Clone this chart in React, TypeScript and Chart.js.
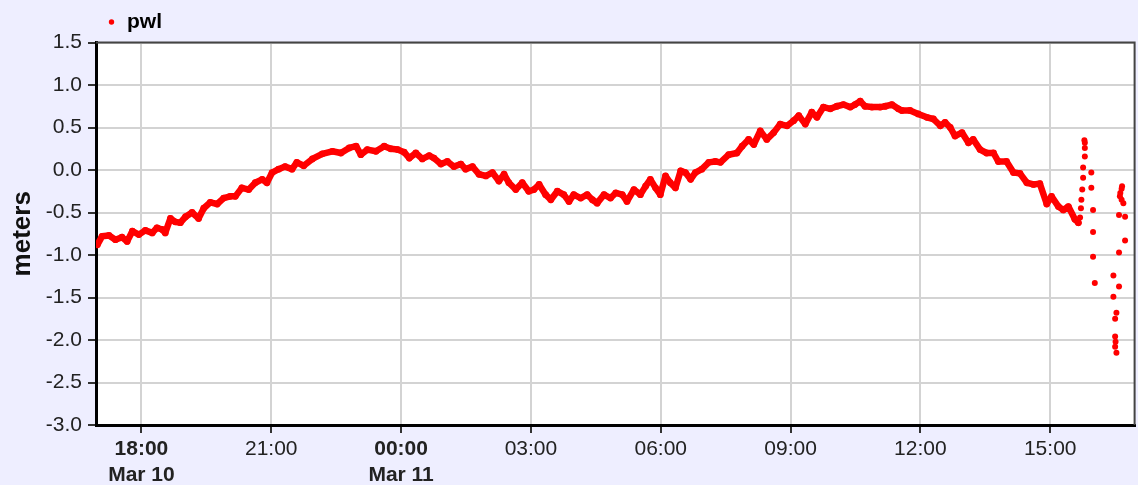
import React, { useEffect, useRef } from 'react';
import { Chart, registerables } from 'chart.js';

Chart.register(...registerables);

// ---- data (hours counted from Mar 10 00:00) ----
const SERIES_LABEL = 'pwl';

const MAIN_HOURS = [
  16.98, 17.09, 17.25, 17.40, 17.55, 17.67, 17.79, 17.94, 18.09, 18.25,
  18.36, 18.48, 18.55, 18.67, 18.78, 18.90, 19.02, 19.17, 19.32, 19.44,
  19.59, 19.75, 19.90, 20.05, 20.17, 20.32, 20.48, 20.63, 20.79, 20.90,
  21.02, 21.17, 21.32, 21.48, 21.59, 21.75, 21.95, 22.18, 22.41, 22.61,
  22.80, 22.96, 23.07, 23.22, 23.42, 23.61, 23.76, 23.92, 24.07, 24.19,
  24.34, 24.49, 24.65, 24.76, 24.92, 25.07, 25.22, 25.38, 25.49, 25.65,
  25.80, 25.96, 26.11, 26.26, 26.38, 26.49, 26.65, 26.80, 26.95, 27.07,
  27.19, 27.34, 27.46, 27.61, 27.76, 27.88, 27.99, 28.15, 28.30, 28.42,
  28.53, 28.69, 28.84, 28.96, 29.11, 29.22, 29.38, 29.53, 29.65, 29.76,
  29.88, 29.99, 30.11, 30.22, 30.34, 30.46, 30.57, 30.69, 30.80, 30.95,
  31.11, 31.26, 31.38, 31.57, 31.76, 31.88, 32.03, 32.15, 32.30, 32.45,
  32.61, 32.76, 32.92, 33.07, 33.19, 33.34, 33.49, 33.61, 33.76, 33.92,
  34.07, 34.22, 34.38, 34.49, 34.61, 34.72, 34.88, 35.07, 35.19, 35.34,
  35.49, 35.57, 35.76, 35.95, 36.15, 36.30, 36.46, 36.57, 36.69, 36.80,
  36.96, 37.11, 37.22, 37.38, 37.53, 37.69, 37.80, 37.99, 38.15, 38.30,
  38.46, 38.61, 38.76, 38.92, 39.03, 39.19, 39.30, 39.42, 39.57, 39.65,
];

const MAIN_LEVELS = [
  -0.88, -0.78, -0.77, -0.82, -0.79, -0.84, -0.72, -0.76, -0.71, -0.74,
  -0.68, -0.70, -0.74, -0.57, -0.61, -0.62, -0.55, -0.50, -0.57, -0.45,
  -0.38, -0.40, -0.33, -0.31, -0.31, -0.21, -0.23, -0.15, -0.11, -0.15,
  -0.03, 0.01, 0.04, 0.01, 0.09, 0.05, 0.13, 0.19, 0.22, 0.20,
  0.26, 0.28, 0.18, 0.24, 0.22, 0.28, 0.25, 0.24, 0.21, 0.14,
  0.20, 0.13, 0.17, 0.14, 0.07, 0.10, 0.04, 0.07, 0.01, 0.04,
  -0.05, -0.07, -0.03, -0.13, -0.05, -0.15, -0.23, -0.15, -0.25, -0.23,
  -0.17, -0.29, -0.35, -0.25, -0.29, -0.37, -0.29, -0.33, -0.29, -0.35,
  -0.39, -0.29, -0.33, -0.27, -0.29, -0.37, -0.23, -0.29, -0.19, -0.11,
  -0.21, -0.29, -0.07, -0.15, -0.21, -0.01, -0.03, -0.11, -0.03, 0.01,
  0.09, 0.10, 0.09, 0.18, 0.20, 0.28, 0.36, 0.30, 0.46, 0.36,
  0.44, 0.54, 0.52, 0.58, 0.64, 0.54, 0.68, 0.62, 0.74, 0.72,
  0.75, 0.77, 0.74, 0.77, 0.81, 0.75, 0.74, 0.74, 0.75, 0.77,
  0.72, 0.70, 0.70, 0.66, 0.62, 0.60, 0.52, 0.56, 0.50, 0.40,
  0.44, 0.32, 0.36, 0.24, 0.20, 0.20, 0.10, 0.10, -0.03, -0.04,
  -0.15, -0.17, -0.16, -0.40, -0.31, -0.43, -0.47, -0.43, -0.58, -0.62,
];

const SPIKE_HOURS = [
  39.69, 39.71, 39.72, 39.74, 39.76, 39.76, 39.80, 39.80, 39.80, 39.79,
  39.95, 39.95, 39.99, 39.99, 39.99, 40.03,
  40.46, 40.46, 40.50, 40.53, 40.50, 40.51, 40.50, 40.53,
  40.59, 40.59, 40.59, 40.61, 40.62, 40.65, 40.66, 40.65, 40.69, 40.73, 40.73,
];

const SPIKE_LEVELS = [
  -0.56, -0.45, -0.35, -0.23, -0.09, 0.03, 0.16, 0.26, 0.32, 0.35,
  -0.03, -0.21, -0.47, -0.73, -1.02, -1.33,
  -1.24, -1.49, -1.75, -1.68, -1.96, -2.02, -2.08, -2.15,
  -1.37, -0.97, -0.53, -0.31, -0.27, -0.22, -0.19, -0.35, -0.39, -0.55, -0.83,
];

const X_TICK_HOURS = [18, 21, 24, 27, 30, 33, 36, 39];
const X_TICK_LABELS: (string | string[])[] = [
  ['18:00', 'Mar 10'], '21:00', ['00:00', 'Mar 11'], '03:00', '06:00', '09:00', '12:00', '15:00',
];
const X_MIN = 16.95;
const X_MAX = 40.95;
const Y_MIN = -3;
const Y_MAX = 1.5;
const Y_STEP = 0.5;
const Y_TITLE = 'meters';

const FONT = '"Liberation Sans", Arial, Helvetica, sans-serif';
const RED = '#ff0000';
const PAGE_BG = '#eeeeff';
const GRID = '#d3d3d3';

const framePlugin = {
  id: 'frame',
  beforeDraw(chart: any) {
    const { ctx, chartArea: a } = chart;
    ctx.save();
    ctx.fillStyle = '#ffffff';
    ctx.fillRect(a.left, a.top, a.right - a.left, a.bottom - a.top);
    ctx.restore();
  },
  afterDraw(chart: any) {
    const { ctx, chartArea: a } = chart;
    ctx.save();
    ctx.strokeStyle = '#444444';
    ctx.lineWidth = 2;
    ctx.beginPath();
    ctx.moveTo(a.left, a.top);
    ctx.lineTo(a.right, a.top);
    ctx.lineTo(a.right, a.bottom);
    ctx.stroke();
    ctx.restore();
  },
};

export default function App() {
  const ref = useRef<HTMLCanvasElement | null>(null);

  useEffect(() => {
    if (!ref.current) return;
    const spikes = SPIKE_HOURS.map((h, i) => ({ x: h, y: SPIKE_LEVELS[i] }));
    const main = MAIN_HOURS.map((h, i) => ({ x: h, y: MAIN_LEVELS[i] }));

    const chart = new Chart(ref.current, {
      type: 'scatter',
      data: {
        datasets: [
          {
            label: SERIES_LABEL,
            data: spikes,
            backgroundColor: RED,
            borderColor: RED,
            borderWidth: 0,
            pointRadius: 3,
            pointHoverRadius: 3,
            showLine: false,
          },
          {
            label: SERIES_LABEL,
            data: main,
            backgroundColor: RED,
            borderColor: RED,
            borderWidth: 6.5,
            borderJoinStyle: 'round',
            borderCapStyle: 'round',
            pointRadius: 3.4,
            pointBorderWidth: 0,
            pointHoverRadius: 3.4,
            showLine: true,
            tension: 0,
          },
        ],
      },
      options: {
        responsive: false,
        animation: false,
        devicePixelRatio: 1,
        layout: { padding: { top: 1, right: 1, left: 0, bottom: 0 } },
        plugins: {
          tooltip: { enabled: false },
          legend: {
            display: true,
            position: 'top',
            align: 'start',
            fullSize: false,
            labels: {
              usePointStyle: true,
              pointStyle: 'circle',
              boxWidth: 10,
              boxHeight: 3.8,
              padding: 10.5,
              color: '#000000',
              font: { family: FONT, size: 21, weight: 'bold' },
              filter: (item: any) => item.datasetIndex === 0,
            },
          },
        },
        scales: {
          x: {
            type: 'linear',
            min: X_MIN,
            max: X_MAX,
            afterBuildTicks: (scale: any) => {
              scale.ticks = X_TICK_HOURS.map((v) => ({ value: v }));
            },
            afterFit: (scale: any) => {
              scale.height = 60;
            },
            ticks: {
              autoSkip: false,
              maxRotation: 0,
              minRotation: 0,
              padding: 4,
              color: '#222222',
              callback: (value: any) => {
                const i = X_TICK_HOURS.indexOf(Number(value));
                return i >= 0 ? X_TICK_LABELS[i] : '';
              },
              font: (c: any) => ({
                family: FONT,
                size: 21,
                weight: Array.isArray(X_TICK_LABELS[c.index]) ? 'bold' : 'normal',
              }),
            },
            grid: {
              color: GRID,
              lineWidth: 2,
              tickLength: 8,
              tickColor: '#333333',
              tickWidth: 2,
            },
            border: { color: '#000000', width: 3 },
          },
          y: {
            min: Y_MIN,
            max: Y_MAX,
            afterFit: (scale: any) => {
              scale.width = 96;
            },
            ticks: {
              stepSize: Y_STEP,
              padding: 6,
              color: '#222222',
              font: { family: FONT, size: 21 },
              callback: (v: any) => Number(v).toFixed(1),
            },
            grid: {
              color: GRID,
              lineWidth: 2,
              tickLength: 8,
              tickColor: '#333333',
              tickWidth: 2,
            },
            border: { color: '#000000', width: 3 },
            title: {
              display: true,
              text: Y_TITLE,
              color: '#111111',
              font: { family: FONT, size: 26, weight: 'bold' },
              padding: { top: 7, bottom: 0 },
            },
          },
        },
      },
      plugins: [framePlugin],
    } as any);

    return () => chart.destroy();
  }, []);

  return (
    <div
      style={{
        position: 'fixed',
        left: 0,
        top: 0,
        width: 1138,
        height: 485,
        background: PAGE_BG,
        overflow: 'hidden',
      }}
    >
      <canvas ref={ref} width={1138} height={485} style={{ display: 'block' }} />
    </div>
  );
}
